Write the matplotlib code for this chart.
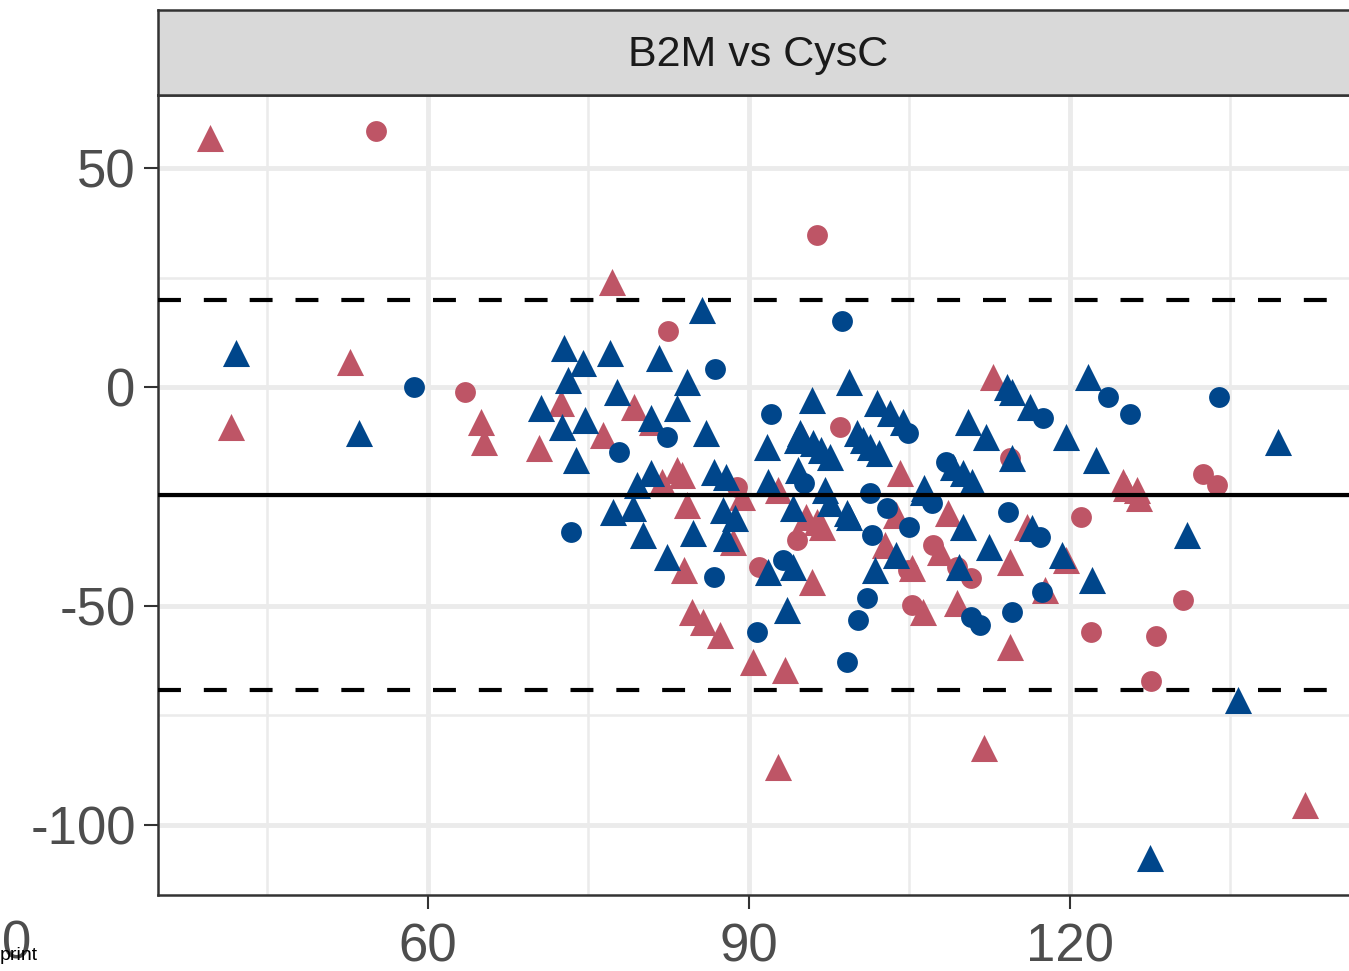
import matplotlib
matplotlib.use("Agg")
import matplotlib.pyplot as plt

plt.rcParams['font.family'] = ['Liberation Sans', 'DejaVu Sans']
plt.rcParams['axes.unicode_minus'] = False

# Bland-Altman style data: mean (x) vs difference (y)
red_tri_x = [39.7, 41.6, 52.7, 65.0, 65.3, 70.4, 72.5, 77.2, 76.4, 79.3, 81.0, 83.3, 83.8,
             81.9, 84.2, 84.0, 88.5, 89.4, 84.7, 85.7, 87.3, 90.4, 93.4, 92.7, 95.0, 95.4,
             96.4, 96.9, 95.9, 102.7, 103.8, 104.1, 105.3, 106.3, 107.9, 108.6, 109.5,
             112.8, 114.4, 114.4, 116.0, 117.7, 119.7, 125.0, 125.3, 126.3, 126.5, 92.7,
             112.0, 142.0]
red_tri_y = [56.8, -9.1, 5.7, -8.0, -12.6, -13.9, -3.7, 24.0, -11.0, -4.6, -8.0, -18.9, -20.1,
             -21.7, -26.9, -41.8, -35.4, -25.1, -51.4, -53.7, -56.6, -62.8, -64.6, -23.5, -11.4, -29.7,
             -30.8, -32.0, -44.5, -36.1, -29.2, -19.6, -41.3, -51.4, -37.7, -28.8, -49.3,
             2.3, -40.0, -59.4, -32.0, -46.3, -39.5, -21.7, -23.1, -23.5, -25.3, -86.8,
             -82.4, -95.4]

red_circ_x = [55.2, 63.5, 82.5, 96.4, 98.5, 88.9, 91.0, 94.5, 105.3, 104.9, 107.2, 109.5,
              110.8, 114.4, 121.1, 122.0, 128.1, 127.6, 130.6, 132.5, 133.8]
red_circ_y = [58.4, -1.1, 12.8, 34.7, -9.1, -22.8, -41.1, -34.9, -49.8, -41.8, -36.1, -41.1,
              -43.6, -16.2, -29.7, -55.9, -56.8, -67.1, -48.6, -19.9, -22.4]

blue_tri_x = [42.1, 53.6, 70.6, 72.7, 73.1, 74.5, 77.0, 81.6, 84.2, 85.6, 77.7, 83.3, 80.9,
              74.7, 72.6, 86.0, 73.9, 80.9, 86.8, 87.9, 91.8, 79.6, 91.7, 94.5, 77.3, 79.2,
              80.1, 84.8, 87.6, 88.7, 87.9, 82.4, 91.8, 94.1, 93.6, 94.1, 99.4, 95.9, 102.0,
              103.2, 104.4, 94.8, 96.0, 96.8, 97.6, 100.1, 100.7, 101.3, 102.2, 94.6, 97.1,
              97.6, 99.2, 99.4, 101.8, 103.8, 106.3, 110.0, 109.7, 112.5, 114.1, 114.6, 116.3,
              110.5, 112.2, 114.6, 109.1, 110.0, 110.9, 106.4, 119.7, 121.7, 122.5, 139.5,
              131.0, 119.3, 122.1, 135.7, 127.5, 116.5]
blue_tri_y = [7.8, -10.5, -4.8, 8.9, 1.6, 5.5, 7.8, 6.6, 1.1, 17.6, -1.1, -4.8, -7.1,
              -7.5, -9.1, -10.5, -16.7, -19.6, -19.4, -20.5, -21.7, -22.4, -13.7, -12.1, -28.5, -27.6,
              -33.8, -33.3, -28.1, -29.9, -34.5, -38.8, -42.2, -41.1, -50.9, -27.6, 1.1, -3.0, -3.7,
              -5.9, -8.0, -10.5, -12.8, -14.4, -16.0, -10.5, -12.1, -13.7, -15.1, -18.9, -23.5,
              -26.5, -28.8, -29.7, -41.8, -38.4, -24.0, -32.0, -41.1, -36.5, 0.0, -1.1, -4.6,
              -8.0, -11.4, -16.2, -18.3, -19.6, -21.7, -23.1, -11.4, 2.3, -16.7, -12.6,
              -33.8, -38.4, -44.1, -71.5, -107.5, -32.2]

blue_circ_x = [58.7, 73.4, 77.9, 82.4, 86.9, 92.1, 86.8, 90.8, 93.2, 95.2, 98.7, 104.9,
               101.3, 102.9, 105.0, 101.5, 101.1, 100.2, 99.2, 107.1, 108.4, 110.8, 111.6,
               114.6, 114.2, 117.2, 117.4, 117.5, 123.6, 125.6, 134.0]
blue_circ_y = [0.0, -33.1, -14.8, -11.4, 4.1, -6.2, -43.4, -55.9, -39.5, -21.9, 15.1, -10.5,
               -24.2, -27.6, -32.0, -33.8, -48.2, -53.2, -62.8, -26.5, -17.1, -52.5, -54.3,
               -51.4, -28.5, -34.2, -46.8, -7.1, -2.3, -6.2, -2.3]

mean_diff = -24.7
upper_loa = 19.9
lower_loa = -69.2

red = '#BE5566'
blue = '#00468B'

fig = plt.figure(figsize=(13.49, 9.71), dpi=100)
ax = fig.add_axes([0.1171, 0.0783, 0.89, 0.8239])

ax.scatter(red_tri_x, red_tri_y, marker='^', s=380, color=red, linewidths=0, zorder=3)
ax.scatter(red_circ_x, red_circ_y, marker='o', s=225, color=red, linewidths=0, zorder=3)
ax.scatter(blue_tri_x, blue_tri_y, marker='^', s=380, color=blue, linewidths=0, zorder=3)
ax.scatter(blue_circ_x, blue_circ_y, marker='o', s=225, color=blue, linewidths=0, zorder=3)

ax.axhline(mean_diff, color='black', lw=3.0, zorder=4)
for v in (upper_loa, lower_loa):
    ax.axhline(v, color='black', lw=3.0, dashes=(5.5, 5.5), zorder=4)

ax.set_xlim(34.8, 147.0)
ax.set_ylim(-116.0, 66.7)
ax.set_xticks([60, 90, 120])
ax.set_yticks([50, 0, -50, -100])
ax.set_xticks([45, 75, 105, 135], minor=True)
ax.set_yticks([25, -25, -75], minor=True)
ax.grid(which='major', color='#EBEBEB', lw=3.5, zorder=0)
ax.grid(which='minor', color='#EBEBEB', lw=1.8, zorder=0)
ax.set_axisbelow(True)
ax.tick_params(which='major', labelsize=38, labelcolor='#4D4D4D', color='#333333',
               length=10, width=1.5)
ax.tick_params(axis='y', pad=6)
ax.tick_params(axis='x', pad=10)
ax.tick_params(which='minor', length=0)
for sp in ax.spines.values():
    sp.set_color('#333333')
    sp.set_linewidth(1.8)

# facet strip
strip = fig.add_axes([0.1171, 0.9022, 0.89, 0.0875])
strip.set_xticks([])
strip.set_yticks([])
strip.set_facecolor('#D9D9D9')
for sp in strip.spines.values():
    sp.set_color('#333333')
    sp.set_linewidth(1.8)
strip.text(0.5, 0.47, 'B2M vs CysC', ha='center', va='center', fontsize=31, color='#1A1A1A',
           transform=strip.transAxes)

fig.text(0.012, 0.027, '0', fontsize=38, color='#4D4D4D', ha='center', va='center')
fig.text(0.0, 0.016, 'print', fontsize=14, color='black', ha='left', va='center')

fig.savefig('out.png', dpi=100)
